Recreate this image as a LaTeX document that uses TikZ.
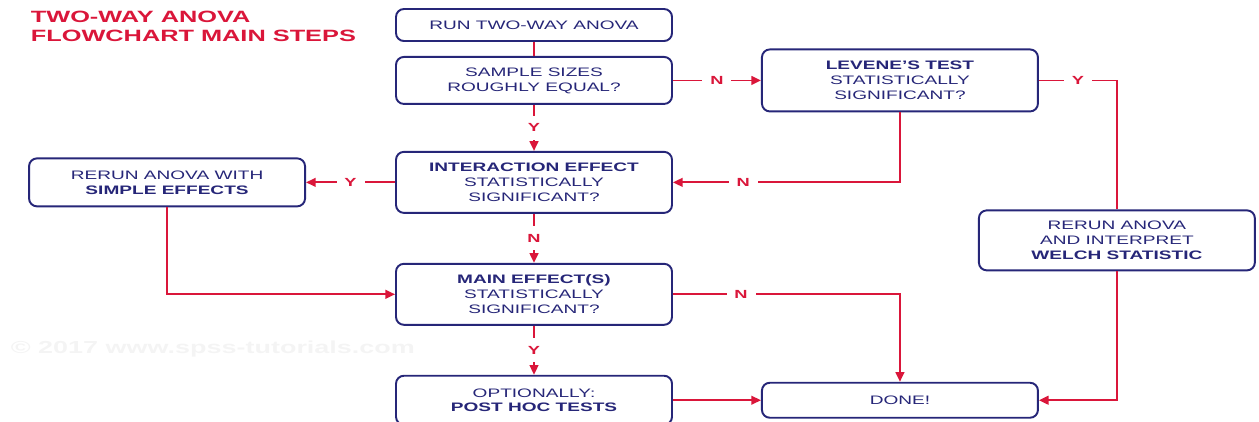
\documentclass[tikz,border=0pt]{standalone}
\usepackage{fontspec}
\setmainfont{Liberation Sans}[FakeStretch=1.55]
\usepackage{tikz}
\usetikzlibrary{positioning}
\usetikzlibrary{arrows.meta}
\definecolor{flownavy}{RGB}{38,38,120}
\definecolor{flowred}{RGB}{218,22,58}
\tikzset{flow box/.style={rectangle,rounded corners=4.5pt,draw=flownavy,line width=1.1pt,text=flownavy,fill=white,minimum width=5.52cm,align=center,inner sep=0pt,font=\fontsize{7}{8.5}\selectfont},
	yn label/.style={fill=white,text=flowred,font=\fontsize{6.7}{7}\selectfont\bfseries,inner sep=4.5pt},
	flow arrow/.style={-{Triangle[length=5.5pt,width=5pt]}},}

\begin{document}
\begin{tikzpicture}[node distance=0.98cm,line width=1pt]
	\useasboundingbox (0,0) rectangle (25.18,-8.42);
	\node[anchor=north west,text=flowred,font=\fontsize{9.3}{11}\selectfont\bfseries,align=left,inner sep=0pt] (title) at (0.6,-0.2) {TWO-WAY ANOVA\\FLOWCHART MAIN STEPS};
	\node[anchor=west,text=gray!9,font=\fontsize{9.9}{10}\selectfont\bfseries,inner sep=0pt] (stamp) at (0.2,-6.98) {© 2017 www.spss-tutorials.com};

	\node[flow box,minimum height=0.64cm] (run) at (10.68,-0.5) {RUN TWO-WAY ANOVA};
	\node[flow box,minimum height=0.94cm] (sample) [below=0.28cm of run] {SAMPLE SIZES\\ROUGHLY EQUAL?};
	\node[flow box,minimum height=1.24cm] (levene) [right=1.76cm of sample] {\textbf{LEVENE'S TEST}\\STATISTICALLY\\SIGNIFICANT?};
	\node[flow box,minimum height=1.22cm] (interaction) [below=0.92cm of sample] {\textbf{INTERACTION EFFECT}\\STATISTICALLY\\SIGNIFICANT?};
	\node[flow box,minimum height=0.96cm] (simple) [left=1.78cm of interaction] {RERUN ANOVA WITH\\\textbf{SIMPLE EFFECTS}};
	\node[flow box,minimum height=1.22cm] (main) [below=of interaction] {\textbf{MAIN EFFECT(S)}\\STATISTICALLY\\SIGNIFICANT?};
	\node[flow box,minimum height=0.98cm] (posthoc) [below=of main] {OPTIONALLY:\\\textbf{POST HOC TESTS}};
	\node[flow box,minimum height=0.7cm] (done) [right=1.76cm of posthoc] {DONE!};
	\node[flow box,minimum height=1.2cm] (welch) [below right=1.94cm and -1.22cm of levene] {RERUN ANOVA\\AND INTERPRET\\\textbf{WELCH STATISTIC}};

	\path[draw,flowred]
	(run) edge (sample)
	(sample) edge[flow arrow] node[yn label] {N} (levene)
	(sample) edge[flow arrow] node[yn label] {Y} (interaction)
	(interaction) edge[flow arrow] node[yn label] {Y} (simple)
	(interaction) edge[flow arrow] node[yn label] {N} (main)
	(main) edge[flow arrow] node[yn label] {Y} (posthoc)
	(posthoc) edge[flow arrow] (done);

	\draw[flowred,flow arrow] (levene.south) |- node[yn label,pos=0.845] {N} (interaction.east);
	\draw[flowred,flow arrow] (simple.south) |- (main.west);
	\draw[flowred,flow arrow] (main.east) -| node[yn label,pos=0.15] {N} (done.north);
	\draw[flowred] (levene.east) -| node[yn label,pos=0.25] {Y} (welch.north);
	\draw[flowred,flow arrow] (welch.south) |- (done.east);
\end{tikzpicture}
\end{document}
